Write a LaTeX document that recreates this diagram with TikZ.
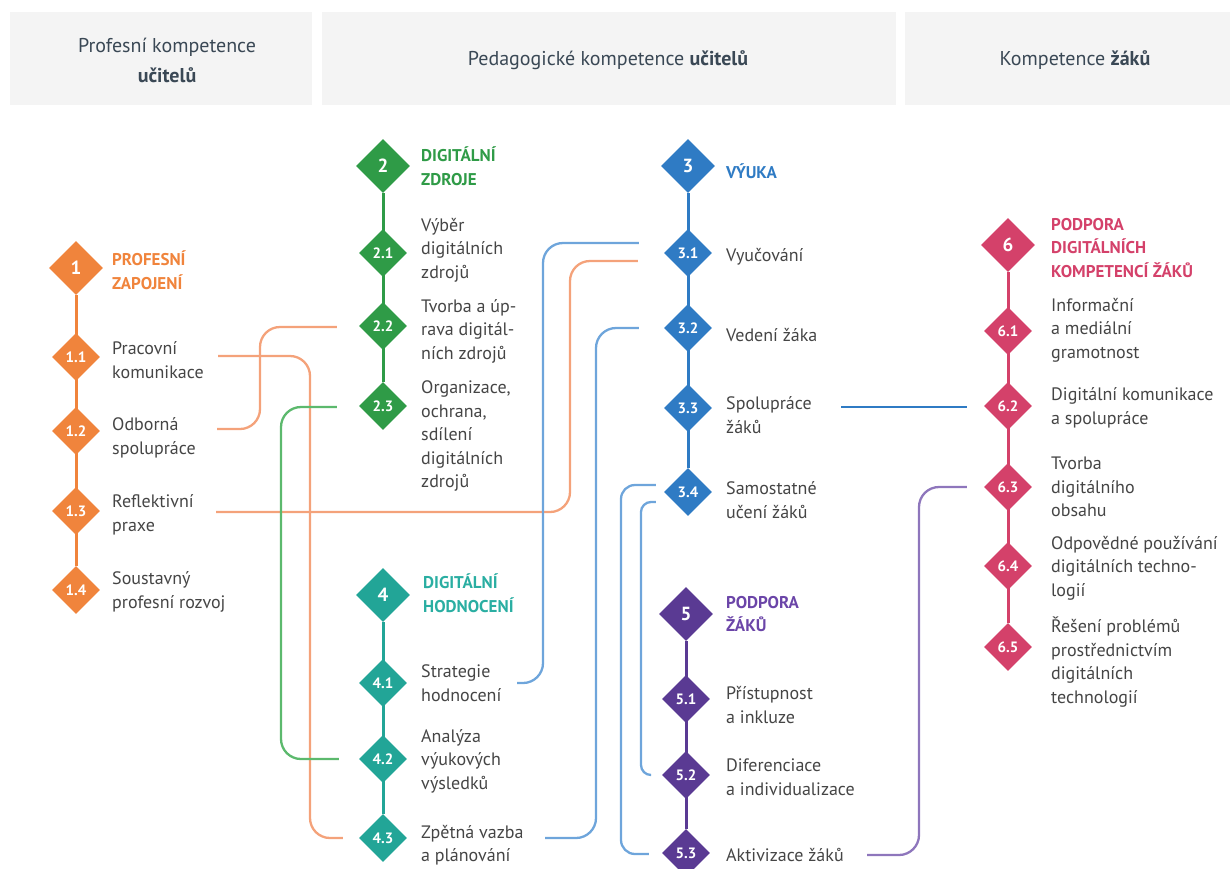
\documentclass[tikz,border=0pt]{standalone}
\usepackage{fontspec}
\setmainfont{PT Sans}
\usetikzlibrary{shapes.geometric,calc,backgrounds}
\definecolor{corange}{HTML}{F0843C}
\definecolor{lorange}{HTML}{F4A27A}
\definecolor{cgreen}{HTML}{2F9B47}
\definecolor{lgreen}{HTML}{5CB96D}
\definecolor{cblue}{HTML}{2F7BC4}
\definecolor{lblue}{HTML}{6EA5DB}
\definecolor{cteal}{HTML}{22A597}
\definecolor{tteal}{HTML}{2AAEA2}
\definecolor{cpurple}{HTML}{5A3A93}
\definecolor{tpurple}{HTML}{6B45A8}
\definecolor{lpurple}{HTML}{8E76BC}
\definecolor{ccrimson}{HTML}{D4416A}
\definecolor{txtgray}{HTML}{454545}
\definecolor{headgray}{HTML}{3A4855}
\definecolor{bandgray}{HTML}{F4F4F4}
\tikzset{
  maind/.style={diamond, minimum size=54pt, inner sep=0pt, fill=#1, text=white,
    font=\bfseries\fontsize{19}{19}\selectfont},
  subd/.style={diamond, minimum size=48pt, inner sep=0pt, fill=#1, text=white,
    font=\bfseries\fontsize{15}{15}\selectfont},
  lbl/.style={anchor=west, align=left, inner sep=0pt, text=txtgray,
    font=\fontsize{18}{23.5}\selectfont},
  headlbl/.style={anchor=west, align=left, inner sep=0pt, text=#1,
    font=\bfseries\fontsize{17}{23.5}\selectfont},
  headtxt/.style={align=center, inner sep=0pt, text=headgray,
    font=\fontsize{20}{30}\selectfont},
  conn/.style={draw=#1, line width=2.3pt, rounded corners=20pt},
  spine/.style={draw=#1, line width=3pt},
}
\begin{document}
\begin{tikzpicture}[x=1pt,y=-1pt]
\useasboundingbox (0,0) rectangle (1230,868);
% header bands
\fill[bandgray] (10,12) rectangle (312,105);
\fill[bandgray] (322,12) rectangle (896,105);
\fill[bandgray] (905,12) rectangle (1240,105);
\node[headtxt] (h1) at (167,60) {Profesní kompetence\\\textbf{učitelů}};
\node[headtxt] (h2) at (608,60) {Pedagogické kompetence \textbf{učitelů}};
\node[headtxt] (h3) at (1075,60) {Kompetence \textbf{žáků}};

% section 1
\node[maind=corange] (d1) at (76,268) {1};
\node[subd=corange] (d11) at (76,357) {1.1};
\node[subd=corange] (d12) at (76,431) {1.2};
\node[subd=corange] (d13) at (76,511) {1.3};
\node[subd=corange] (d14) at (76,590) {1.4};
\node[headlbl=corange] (t1) at (112,270) {PROFESNÍ\\ZAPOJENÍ};
\node[lbl] (t11) at (112,360) {Pracovní\\komunikace};
\node[lbl] (t12) at (112,438) {Odborná\\spolupráce};
\node[lbl] (t13) at (112,515) {Reflektivní\\praxe};
\node[lbl] (t14) at (112,592) {Soustavný\\profesní rozvoj};

% section 2
\node[maind=cgreen] (d2) at (383,166) {2};
\node[subd=cgreen] (d21) at (383,253) {2.1};
\node[subd=cgreen] (d22) at (383,326) {2.2};
\node[subd=cgreen] (d23) at (383,406) {2.3};
\node[headlbl=cgreen] (t2) at (421,166) {DIGITÁLNÍ\\ZDROJE};
\node[lbl] (t21) at (421,250) {Výběr\\digitálních\\zdrojů};
\node[lbl] (t22) at (421,331) {Tvorba a úp-\\rava digitál-\\ních zdrojů};
\node[lbl] (t23) at (421,436) {Organizace,\\ochrana,\\sdílení\\digitálních\\zdrojů};

% section 3
\node[maind=cblue] (d3) at (688,166) {3};
\node[subd=cblue] (d31) at (688,253) {3.1};
\node[subd=cblue] (d32) at (688,328) {3.2};
\node[subd=cblue] (d33) at (688,408) {3.3};
\node[subd=cblue] (d34) at (688,492) {3.4};
\node[headlbl=cblue] (t3) at (726,171) {VÝUKA};
\node[lbl] (t31) at (726,257) {Vyučování};
\node[lbl] (t32) at (726,335) {Vedení žáka};
\node[lbl] (t33) at (726,415) {Spolupráce\\žáků};
\node[lbl] (t34) at (726,500) {Samostatné\\učení žáků};

% section 4
\node[maind=cteal] (d4) at (383,595) {4};
\node[subd=cteal] (d41) at (383,683) {4.1};
\node[subd=cteal] (d42) at (383,759) {4.2};
\node[subd=cteal] (d43) at (383,838) {4.3};
\node[headlbl=tteal] (t4) at (423,593) {DIGITÁLNÍ\\HODNOCENÍ};
\node[lbl] (t41) at (421,683) {Strategie\\hodnocení};
\node[lbl] (t42) at (421,761) {Analýza\\výukových\\výsledků};
\node[lbl] (t43) at (421,845) {Zpětná vazba\\a plánování};

% section 5
\node[maind=cpurple] (d5) at (686,614) {5};
\node[subd=cpurple] (d51) at (686,699) {5.1};
\node[subd=cpurple] (d52) at (686,775) {5.2};
\node[subd=cpurple] (d53) at (686,853) {5.3};
\node[headlbl=tpurple] (t5) at (726,614) {PODPORA\\ŽÁKŮ};
\node[lbl] (t51) at (726,705) {Přístupnost\\a inkluze};
\node[lbl] (t52) at (726,777) {Diferenciace\\a individualizace};
\node[lbl] (t53) at (726,855) {Aktivizace žáků};

% section 6
\node[maind=ccrimson] (d6) at (1008,245) {6};
\node[subd=ccrimson] (d61) at (1008,331) {6.1};
\node[subd=ccrimson] (d62) at (1008,406) {6.2};
\node[subd=ccrimson] (d63) at (1008,487) {6.3};
\node[subd=ccrimson] (d64) at (1008,566) {6.4};
\node[subd=ccrimson] (d65) at (1008,647) {6.5};
\node[headlbl=ccrimson] (t6) at (1051,248) {PODPORA\\DIGITÁLNÍCH\\KOMPETENCÍ ŽÁKŮ};
\node[lbl] (t61) at (1051,330) {Informační\\a mediální\\gramotnost};
\node[lbl] (t62) at (1051,408) {Digitální komunikace\\a spolupráce};
\node[lbl] (t63) at (1051,487) {Tvorba\\digitálního\\obsahu};
\node[lbl] (t64) at (1051,568) {Odpovědné používání\\digitálních techno-\\logií};
\node[lbl] (t65) at (1051,662) {Řešení problémů\\prostřednictvím\\digitálních\\technologií};

% free connector ends
\coordinate (c11) at (218,356);
\coordinate (c12) at (217,429);
\coordinate (c13) at (216,512);
\coordinate (c41) at (517,683);
\coordinate (c43) at (545,838);
\coordinate (c33) at (841,407);
\coordinate (c53) at (867,855);

\begin{scope}[on background layer]
\draw[spine=corange] (d1) -- (d14);
\draw[spine=cgreen] (d2) -- (d23);
\draw[spine=cblue] (d3) -- (d34);
\draw[spine=cteal] (d4) -- (d43);
\draw[spine=cpurple] (d5) -- (d53);
\draw[spine=ccrimson] (d6) -- (d65);
\end{scope}

% connectors
\draw[conn=lorange] (c11) -| (310,838) -- ($(d43.west)+(-16,0)$);
\draw[conn=lorange] (c12) -| (260,327) -- ($(d22.west)+(-22,1)$);
\draw[conn=lorange] (c13) -| (570,261) -- ($(d31.west)+(-26,8)$);
\draw[conn=lgreen] ($(d23.west)+(-22,1)$) -| (281,759) -- ($(d42.west)+(-20,0)$);
\draw[conn=lblue] ($(d31.west)+(-25,-10)$) -| (543,683) -- (c41);
\draw[conn=lblue] ($(d32.west)+(-25,0)$) -| (596,838) -- (c43);
\draw[conn=lblue, rounded corners=14pt] ($(d34.west)+(-8,-7)$) -| (621,854) -- ($(d53.west)+(-13,1)$);
\draw[conn=lblue, rounded corners=10pt] ($(d34.west)+(-8,10)$) -| (641,775) -- ($(d52.west)+(-11,0)$);
\draw[conn=cblue] (c33) -- ($(d62.west)+(-17,1)$);
\draw[conn=lpurple] (c53) -| (919,487) -- ($(d63.west)+(-17,0)$);
\end{tikzpicture}
\end{document}
